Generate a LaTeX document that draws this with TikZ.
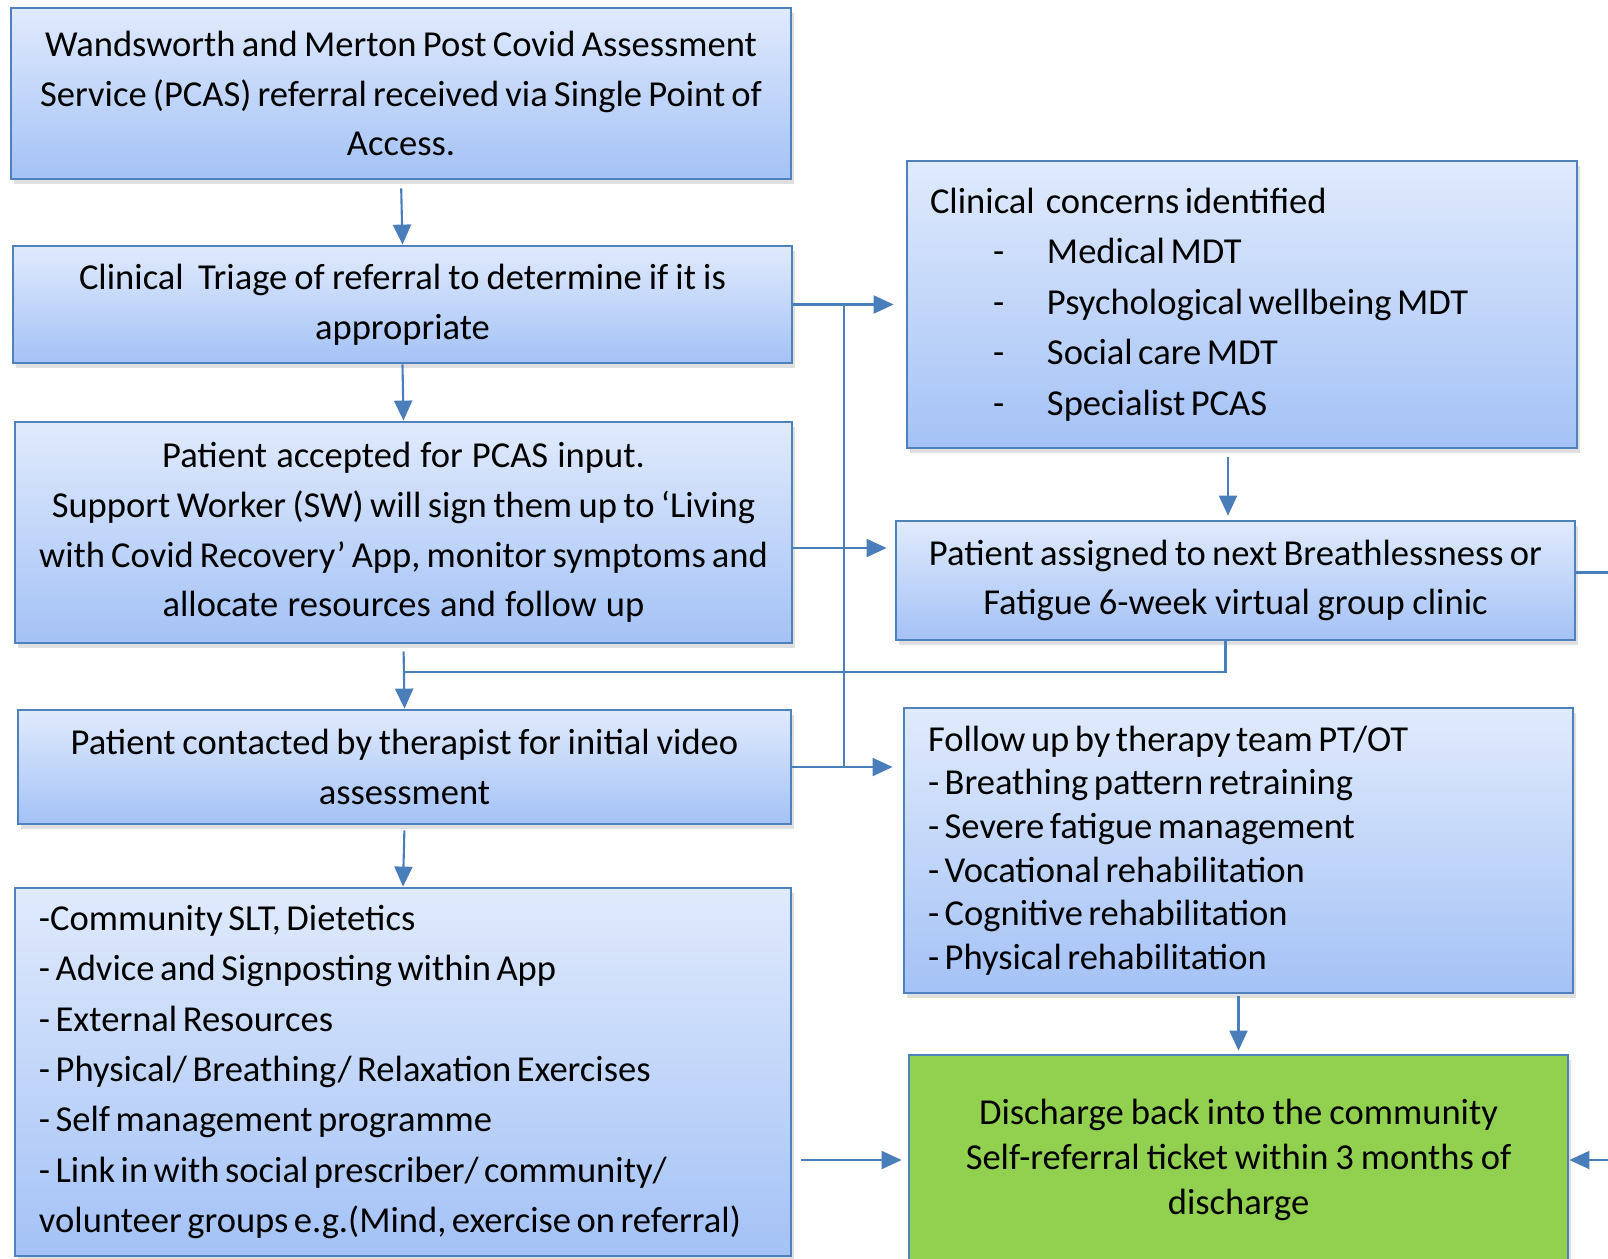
\documentclass[tikz,border=0pt]{standalone}
\usepackage{fontspec}
\setmainfont{Carlito}
\definecolor{boxline}{RGB}{79, 129, 189}
\definecolor{arrowblue}{RGB}{74, 126, 187}
\definecolor{boxtop}{RGB}{224, 234, 252}
\definecolor{boxbottom}{RGB}{164, 194, 246}
\definecolor{dischargegreen}{RGB}{146, 208, 80}
\usetikzlibrary{arrows.meta, shadows, calc}
\newcommand{\boxfont}[1]{\fontsize{10.4}{#1}\selectfont}
\newcommand{\concernitem}[1]{\makebox[1.17cm][l]{\hspace*{0.63cm}-}#1}

\begin{document}
\begin{tikzpicture}[
  flowbox/.style={draw=boxline, line width=0.8pt, top color=boxtop, bottom color=boxbottom,
    inner sep=0pt, drop shadow={shadow xshift=0.03cm, shadow yshift=-0.05cm, opacity=0.25},
    font=\boxfont{14.1},
    execute at begin node={\spaceskip=0.15em plus 0.05em minus 0.03em\xspaceskip=0.2em}},
  flow/.style={draw=arrowblue, line width=0.6pt},
  flowarrow/.style={flow, -{Triangle[length=0.2cm, width=0.18cm]}}
]
  \fill[white] (0,0) rectangle (16.08,-12.58);
  \clip (0,0) rectangle (16.08,-12.58);

  % Left column
  \node[flowbox, minimum width=7.80cm, minimum height=1.71cm, text width=7.80cm, align=center] (referral) at (4.01,-0.935) {
    Wandsworth and Merton Post Covid Assessment\\
    Service (PCAS) referral received via Single Point of\\
    Access.
  };
  \node[flowbox, minimum width=7.79cm, minimum height=1.17cm, text width=7.79cm, align=center] (triage) at (4.025,-3.045) {
    Clinical~ Triage of referral to determine if it is\\
    appropriate
  };
  \node[flowbox, minimum width=7.77cm, minimum height=2.21cm, text width=7.77cm, align=center] (accepted) at (4.035,-5.325) {
    Patient accepted for PCAS input.\\
    Support Worker (SW) will sign them up to ‘Living\\
    with Covid Recovery’ App, monitor symptoms and\\
    allocate resources and follow up
  };
  \node[flowbox, minimum width=7.73cm, minimum height=1.14cm, text width=7.73cm, align=center] (video) at (4.045,-7.67) {
    Patient contacted by therapist for initial video\\
    assessment
  };
  \node[flowbox, minimum width=7.76cm, minimum height=3.68cm, text width=7.28cm, inner xsep=0.24cm, align=left,
    font=\boxfont{14.3}] (resources) at (4.03,-10.72) {
    -Community SLT, Dietetics\\
    - Advice and Signposting within App\\
    - External Resources\\
    - Physical/ Breathing/ Relaxation Exercises\\
    - Self management programme\\
    - Link in with social prescriber/ community/\\
    volunteer groups e.g.(Mind, exercise on referral)
  };

  % Right column
  \node[flowbox, minimum width=6.70cm, minimum height=2.87cm, text width=6.24cm, inner xsep=0.23cm, align=left,
    font=\boxfont{14.4}] (concerns) at (12.42,-3.045) {
    Clinical~ concerns identified\\
    \concernitem{Medical MDT}\\
    \concernitem{Psychological wellbeing MDT}\\
    \concernitem{Social care MDT}\\
    \concernitem{Specialist PCAS}
  };
  \node[flowbox, minimum width=6.79cm, minimum height=1.19cm, text width=6.79cm, align=center] (assigned) at (12.355,-5.805) {
    Patient assigned to next Breathlessness or\\
    Fatigue 6-week virtual group clinic
  };
  \node[flowbox, minimum width=6.69cm, minimum height=2.85cm, text width=6.21cm, inner xsep=0.24cm, align=left,
    font=\boxfont{12.4}] (followup) at (12.385,-8.505) {
    Follow up by therapy team PT/OT\\
    - Breathing pattern retraining\\
    - Severe fatigue management\\
    - Vocational rehabilitation\\
    - Cognitive rehabilitation\\
    - Physical rehabilitation
  };
  \node[flowbox, top color=dischargegreen, bottom color=dischargegreen, minimum width=6.59cm, minimum height=2.10cm,
    text width=6.59cm, align=center, font=\boxfont{12.7}] (discharge) at (12.385,-11.60) {
    Discharge back into the community\\
    Self-referral ticket within 3 months of\\
    discharge
  };

  % Connectors
  \coordinate (trunk) at (8.44,0);
  \coordinate (merge) at (4.045,-6.72);
  \draw[flowarrow, shorten <=0.08cm] (referral.south) -- (triage.north);
  \draw[flowarrow] (triage.south) -- (accepted.north);
  \draw[flowarrow, shorten <=0.07cm] (accepted.south) -- (video.north);
  \draw[flowarrow, shorten <=0.05cm] (video.south) -- (resources.north);
  \draw[flowarrow, shorten >=0.12cm] (triage.east) -- (concerns.west);
  \draw[flow] (triage.east -| trunk) -- (video.east -| trunk);
  \draw[flowarrow, shorten >=0.08cm] ([yshift=-0.155cm]accepted.east) -- ([yshift=-0.155cm]accepted.east -| assigned.west);
  \draw[flowarrow, shorten >=0.1cm] (video.east) -- (video.east -| followup.west);
  \draw[flowarrow, shorten <=0.08cm, shorten >=0.04cm] ([xshift=-0.14cm]concerns.south) -- ([xshift=-0.14cm]concerns.south |- assigned.north);
  \draw[flow] ([xshift=-0.1cm]assigned.south) |- (merge);
  \draw[flowarrow, shorten <=0.02cm, shorten >=0.03cm] (followup.south) -- (discharge.north);
  \draw[flowarrow, shorten <=0.09cm, shorten >=0.06cm] (resources.east |- discharge.west) -- (discharge.west);
  \draw[flowarrow] ([yshift=0.08cm]assigned.east) -- ++(0.6,0) |- (discharge.east);
\end{tikzpicture}
\end{document}
